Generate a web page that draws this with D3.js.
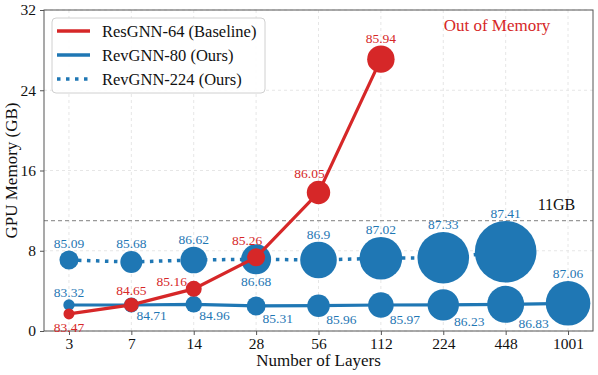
<!DOCTYPE html>
<head>
<meta charset="utf-8">
<style>
  body { margin: 0; background: #fff; }
  text { font-family: "Liberation Serif", "DejaVu Serif", serif; }
</style>
</head>

<body>
    <svg id="container" width="598" height="375"></svg>
</body>

<script src="https://d3js.org/d3.v7.min.js"></script>
<script>

    // data
    let layers = ["3", "7", "14", "28", "56", "112", "224", "448", "1001"]

    let resMem  = [1.7, 2.6, 4.2, 7.35, 13.8, 27.1]
    let resAcc  = ["83.47", "84.65", "85.16", "85.26", "86.05", "85.94"]
    let resSize = [30, 53, 64, 81, 137, 188]
    let resPos  = ["below", "above", "left", "aboveLeft", "aboveLeft", "above"]

    let rev80Mem  = [2.59, 2.59, 2.66, 2.5, 2.52, 2.59, 2.6, 2.66, 2.76]
    let rev80Acc  = ["83.32", "84.71", "84.96", "85.31", "85.96", "85.97", "86.23", "86.83", "87.06"]
    let rev80Size = [32, 56, 69, 90, 128, 164, 246, 342, 497]
    let rev80Pos  = ["above", "belowRight", "belowRight", "belowRight", "belowRight", "belowRight", "belowRight", "belowRight", "above"]

    let rev224Mem  = [7.08, 6.88, 7.08, 7.15, 7.08, 7.25, 7.3, 7.9]
    let rev224Acc  = ["85.09", "85.68", "86.62", "86.68", "86.9", "87.02", "87.33", "87.41"]
    let rev224Size = [90, 121, 177, 225, 335, 454, 666, 949]
    let rev224Pos  = ["above", "above", "above", "below", "above", "above", "above", "above"]

    let yTicks = [0, 8, 16, 24, 32]
    let memLimit = 11

    let red = "#d62728"
    let blue = "#1f77b4"

    let svg = d3.select("#container")
    let pLeft = 44, pRight = 593, pTop = 10, pBottom = 331

    let x = d3.scalePoint().domain(layers).range([pLeft, pRight]).padding(0.4)
    let y = d3.scaleLinear().domain([0, 32]).range([pBottom, pTop])
    let r = d3.scaleSqrt().domain([0, 949]).range([0, 30.8])

    // grid
    let grid = svg.append("g")
    grid.selectAll(".gx").data(layers).enter().append("line")
        .attr("x1", d => x(d)).attr("x2", d => x(d))
        .attr("y1", pTop).attr("y2", pBottom)
        .attr("stroke", "#e6e6e6").attr("stroke-dasharray", "3,3")
    grid.selectAll(".gy").data(yTicks).enter().append("line")
        .attr("x1", pLeft).attr("x2", pRight)
        .attr("y1", d => y(d)).attr("y2", d => y(d))
        .attr("stroke", "#e6e6e6").attr("stroke-dasharray", "3,3")

    // 11GB line
    svg.append("line")
        .attr("x1", pLeft).attr("x2", pRight)
        .attr("y1", y(memLimit)).attr("y2", y(memLimit))
        .attr("stroke", "#999").attr("stroke-width", 1.2).attr("stroke-dasharray", "4,3")
    svg.append("text")
        .attr("x", x("448") + 32).attr("y", y(memLimit) - 11)
        .attr("font-size", 16).attr("fill", "#111")
        .text("11GB")

    // axes
    let xAxis = svg.append("g").attr("transform", `translate(0,${pBottom})`)
        .call(d3.axisBottom(x).tickSize(4).tickPadding(3))
    let yAxis = svg.append("g").attr("transform", `translate(${pLeft},0)`)
        .call(d3.axisLeft(y).tickValues(yTicks).tickSize(4).tickPadding(4))
    for (let a of [xAxis, yAxis]) {
        a.select(".domain").remove()
        a.selectAll("line").attr("stroke", "#555")
        a.selectAll("text").attr("font-size", 15.5).attr("fill", "#111")
            .attr("font-family", "Liberation Serif")
    }

    svg.append("rect")
        .attr("x", pLeft).attr("y", pTop)
        .attr("width", pRight - pLeft).attr("height", pBottom - pTop)
        .attr("fill", "none").attr("stroke", "#555").attr("stroke-width", 1)

    svg.append("text")
        .attr("x", (pLeft + pRight) / 2).attr("y", 366)
        .attr("text-anchor", "middle").attr("font-size", 17).attr("fill", "#111")
        .text("Number of Layers")
    svg.append("text")
        .attr("transform", `translate(17,${(pTop + pBottom) / 2}) rotate(-90)`)
        .attr("text-anchor", "middle").attr("font-size", 17).attr("fill", "#111")
        .text("GPU Memory (GB)")

    function series(mem, acc, size, pos, color, dash) {
        let pts = mem.map((m, i) => ({ cx: x(layers[i]), cy: y(m), rad: r(size[i]), acc: acc[i], pos: pos[i] }))
        let g = svg.append("g")
        g.append("path")
            .attr("d", d3.line().x(d => d.cx).y(d => d.cy)(pts))
            .attr("fill", "none").attr("stroke", color).attr("stroke-width", dash ? 3.5 : 3.2)
            .attr("stroke-dasharray", dash ? "3.5,5.5" : null)
        g.selectAll("circle").data(pts).enter().append("circle")
            .attr("cx", d => d.cx).attr("cy", d => d.cy).attr("r", d => d.rad)
            .attr("fill", color)
        g.selectAll("text").data(pts).enter().append("text")
            .attr("x", d => {
                if (d.pos == "belowRight") return d.cx + 15 + 0.7 * d.rad
                if (d.pos == "left") return d.cx - d.rad - 14
                if (d.pos == "aboveLeft") return d.cx - 9
                return d.cx
            })
            .attr("y", d => {
                if (d.pos == "above" || d.pos == "aboveLeft") return d.cy - d.rad - 7.5
                if (d.pos == "below") return d.cy + d.rad + 7.5
                if (d.pos == "belowRight") return d.cy + 5 + 0.75 * d.rad
                return d.cy - 8
            })
            .attr("dy", "0.35em")
            .attr("text-anchor", "middle").attr("font-size", 13.5).attr("fill", color)
            .text(d => d.acc)
    }

    series(rev224Mem, rev224Acc, rev224Size, rev224Pos, blue, true)
    series(rev80Mem, rev80Acc, rev80Size, rev80Pos, blue, false)
    series(resMem, resAcc, resSize, resPos, red, false)

    svg.append("text")
        .attr("x", 497).attr("y", 25).attr("dy", "0.35em")
        .attr("text-anchor", "middle").attr("font-size", 17).attr("fill", red)
        .text("Out of Memory")

    // legend
    let legendItems = [
        { name: "ResGNN-64 (Baseline)", color: red, dash: null },
        { name: "RevGNN-80 (Ours)", color: blue, dash: null },
        { name: "RevGNN-224 (Ours)", color: blue, dash: "3.5,5.5" }
    ]
    let legend = svg.append("g")
    legend.append("rect")
        .attr("x", 52).attr("y", 18).attr("width", 213).attr("height", 75).attr("rx", 4)
        .attr("fill", "#fff").attr("fill-opacity", 0.9).attr("stroke", "#d0d0d0")
    legendItems.forEach((d, i) => {
        let ly = 31 + i * 24
        legend.append("line")
            .attr("x1", 57).attr("x2", 90).attr("y1", ly).attr("y2", ly)
            .attr("stroke", d.color).attr("stroke-width", 3.5).attr("stroke-dasharray", d.dash)
        legend.append("text")
            .attr("x", 102).attr("y", ly).attr("dy", "0.35em")
            .attr("font-size", 16.5).attr("fill", "#111")
            .text(d.name)
    })

</script>
